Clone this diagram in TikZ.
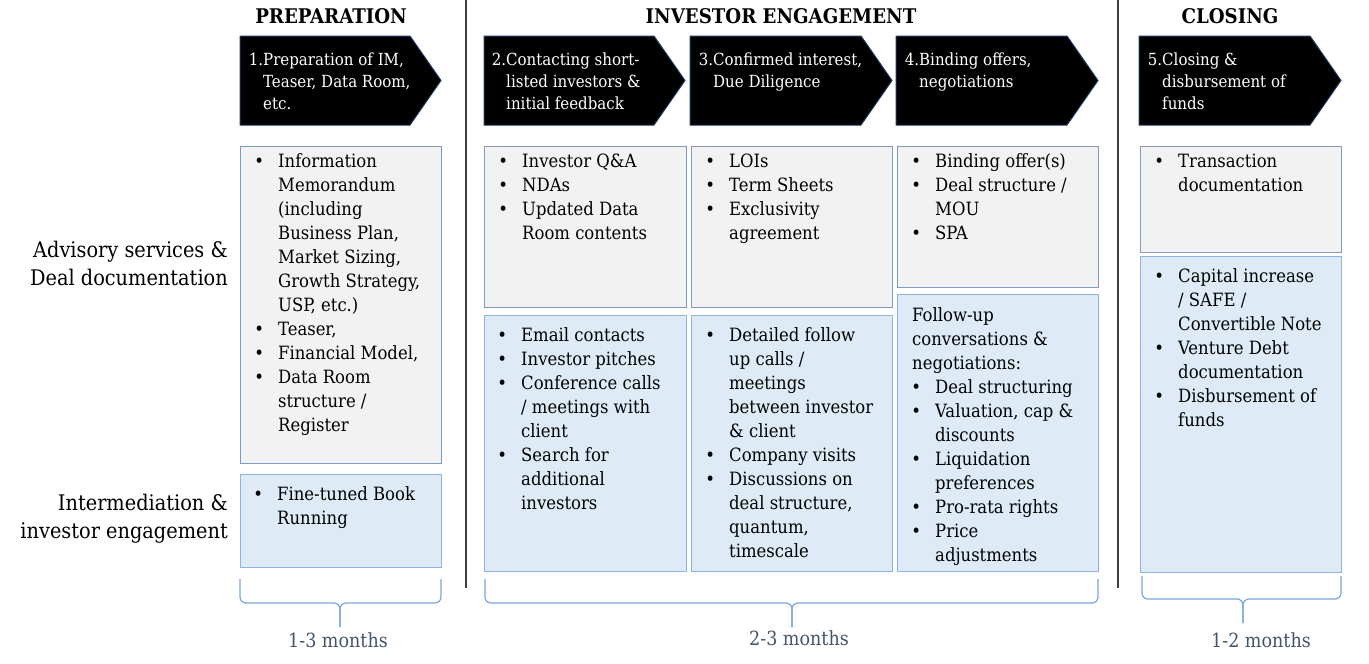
\documentclass[tikz,border=0pt]{standalone}
\usepackage{fontspec}
\IfFontExistsTF{DejaVu Serif Condensed}{\setmainfont{DejaVu Serif Condensed}}{\setmainfont{DejaVu Serif}[FakeStretch=0.9]}
\definecolor{gfill}{HTML}{F2F2F2}
\definecolor{gline}{HTML}{7F9CC0}
\definecolor{bfill}{HTML}{DEEBF7}
\definecolor{bline}{HTML}{8FB4E3}
\definecolor{brc}{HTML}{7AA7DB}
\definecolor{mth}{HTML}{44546A}
\definecolor{arrline}{HTML}{1F3864}
\definecolor{sep}{HTML}{404040}
\newlength\bulw
\setlength\bulw{38pt}
\newcommand\bul{\makebox[\bulw][c]{\textbullet}}
\newcommand\cnt{\hspace*{\bulw}}
\tikzset{
  graybox/.style={draw=gline, fill=gfill, line width=1.2pt, anchor=north west, inner sep=0pt},
  bluebox/.style={draw=bline, fill=bfill, line width=1.2pt, anchor=north west, inner sep=0pt},
  boxtxt/.style={anchor=north west, inner sep=0pt, align=left, font=\fontsize{18.3}{24}\selectfont},
  arrtxt/.style={anchor=north west, inner sep=0pt, align=left, text=white, font=\fontsize{16.7}{22}\selectfont},
  chev/.style={draw=arrline, fill=black, line width=1pt},
  hdr/.style={anchor=base, inner sep=0pt, font=\fontsize{20.2}{25}\selectfont\bfseries},
  sidelbl/.style={anchor=north east, inner sep=0pt, align=right, font=\fontsize{21.5}{28}\selectfont},
  monthlbl/.style={anchor=base, inner sep=0pt, text=mth, font=\fontsize{19.5}{24}\selectfont},
  bracestyle/.style={draw=brc, line width=1.2pt, rounded corners=6pt},
  seprule/.style={draw=sep, line width=1.6pt}
}
\begin{document}
\begin{tikzpicture}[x=1pt,y=-1pt]
\fill[white] (0,0) rectangle (1369,664);
\useasboundingbox (0,0) rectangle (1369,664);

% separators
\coordinate (s1t) at (466,0); \coordinate (s1b) at (466,588);
\coordinate (s2t) at (1118,0); \coordinate (s2b) at (1118,588);
\draw[seprule] (s1t) -- (s1b);
\draw[seprule] (s2t) -- (s2b);

% headers
\node[hdr] (h1) at (331,23.5) {PREPARATION};
\node[hdr] (h2) at (781,23.5) {INVESTOR ENGAGEMENT};
\node[hdr] (h3) at (1230,23.5) {CLOSING};

% chevrons
\draw[chev] (240,36) -- (410,36) -- (441,80.5) -- (410,125) -- (240,125) -- cycle;
\draw[chev] (484,36) -- (654,36) -- (685,80.5) -- (654,125) -- (484,125) -- cycle;
\draw[chev] (690,36) -- (861,36) -- (892,80.5) -- (861,125) -- (690,125) -- cycle;
\draw[chev] (896,36) -- (1067,36) -- (1098,80.5) -- (1067,125) -- (896,125) -- cycle;
\draw[chev] (1139,36) -- (1310,36) -- (1341,80.5) -- (1310,125) -- (1139,125) -- cycle;

\node[arrtxt] (a1) at (263,49.6) {\strut\llap{1.}Preparation of IM,\\Teaser, Data Room,\\etc.};
\node[arrtxt] (a2) at (506,49.6) {\strut\llap{2.}Contacting short-\\listed investors \&\\initial feedback};
\node[arrtxt] (a3) at (713,49.6) {\strut\llap{3.}Confirmed interest,\\Due Diligence};
\node[arrtxt] (a4) at (919,49.6) {\strut\llap{4.}Binding offers,\\negotiations};
\node[arrtxt] (a5) at (1162,49.6) {\strut\llap{5.}Closing \&\\disbursement of\\funds};

% side labels
\node[sidelbl] (l1) at (228,237.9) {\strut Advisory services \&\\Deal documentation};
\node[sidelbl] (l2) at (228,490.9) {\strut Intermediation \&\\investor engagement};

% boxes
\node[graybox, minimum width=201pt, minimum height=317pt] (g1) at (240,146) {};
\node[bluebox, minimum width=201pt, minimum height=93pt] (b1) at (240,474) {};
\node[graybox, minimum width=202pt, minimum height=161pt] (g2) at (484,146) {};
\node[bluebox, minimum width=202pt, minimum height=256pt] (b2) at (484,315) {};
\node[graybox, minimum width=201pt, minimum height=161pt] (g3) at (691,146) {};
\node[bluebox, minimum width=201pt, minimum height=256pt] (b3) at (691,315) {};
\node[graybox, minimum width=201pt, minimum height=141pt] (g4) at (897,146) {};
\node[bluebox, minimum width=201pt, minimum height=277pt] (b4) at (897,294) {};
\node[graybox, minimum width=201pt, minimum height=106pt] (g5) at (1140,146) {};
\node[bluebox, minimum width=201pt, minimum height=316pt] (b5) at (1140,256) {};

% box texts
\node[boxtxt] (tg1) at (240,150.2) {\strut\bul Information\\\cnt Memorandum\\\cnt (including\\\cnt Business Plan,\\\cnt Market Sizing,\\\cnt Growth Strategy,\\\cnt USP, etc.)\\\bul Teaser,\\\bul Financial Model,\\\bul Data Room\\\cnt structure /\\\cnt Register};
\node[boxtxt] (tb1) at (239,483.2) {\strut\bul Fine-tuned Book\\\cnt Running};
\node[boxtxt] (tg2) at (484,150.2) {\strut\bul Investor Q\&A\\\bul NDAs\\\bul Updated Data\\\cnt Room contents};
\node[boxtxt] (tb2) at (483,324.2) {\strut\bul Email contacts\\\bul Investor pitches\\\bul Conference calls\\\cnt / meetings with\\\cnt client\\\bul Search for\\\cnt additional\\\cnt investors};
\node[boxtxt] (tg3) at (691,150.2) {\strut\bul LOIs\\\bul Term Sheets\\\bul Exclusivity\\\cnt agreement};
\node[boxtxt] (tb3) at (691,324.2) {\strut\bul Detailed follow\\\cnt up calls /\\\cnt meetings\\\cnt between investor\\\cnt \& client\\\bul Company visits\\\bul Discussions on\\\cnt deal structure,\\\cnt quantum,\\\cnt timescale};
\node[boxtxt] (tg4) at (897,150.2) {\strut\bul Binding offer(s)\\\bul Deal structure /\\\cnt MOU\\\bul SPA};
\node[boxtxt] (tb4) at (897,304.2) {\strut\hspace*{15pt}Follow-up\\\hspace*{15pt}conversations \&\\\hspace*{15pt}negotiations:\\\bul Deal structuring\\\bul Valuation, cap \&\\\cnt discounts\\\bul Liquidation\\\cnt preferences\\\bul Pro-rata rights\\\bul Price\\\cnt adjustments};
\node[boxtxt] (tg5) at (1140,150.2) {\strut\bul Transaction\\\cnt documentation};
\node[boxtxt] (tb5) at (1140,265.2) {\strut\bul Capital increase\\\cnt / SAFE /\\\cnt Convertible Note\\\bul Venture Debt\\\cnt documentation\\\bul Disbursement of\\\cnt funds};

% braces
\draw[bracestyle] (240,579) |- (340,603) -- (340,627);
\draw[bracestyle] (441,579) |- (340,603) -- (340,627);
\draw[bracestyle] (485,579) |- (792,603) -- (792,627);
\draw[bracestyle] (1098,579) |- (792,603) -- (792,627);
\draw[bracestyle] (1142,576) |- (1243,599) -- (1243,623);
\draw[bracestyle] (1341,576) |- (1243,599) -- (1243,623);

% month labels
\node[monthlbl] (m1) at (338,647) {1-3 months};
\node[monthlbl] (m2) at (799,645) {2-3 months};
\node[monthlbl] (m3) at (1261,647) {1-2 months};
\end{tikzpicture}
\end{document}
